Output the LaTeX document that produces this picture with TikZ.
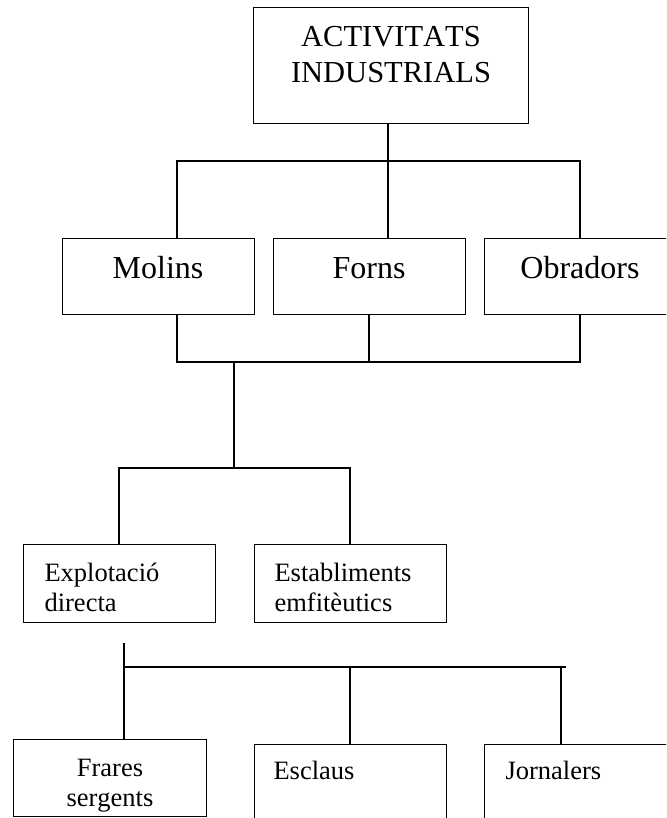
\documentclass[tikz,border=0pt]{standalone}
\usepackage{fontspec}
\setmainfont{Liberation Serif}[Kerning=Off]
\begin{document}
\begin{tikzpicture}[x=1pt,y=-1pt,line width=1.1pt,
  box/.style n args={2}{draw=black,rectangle,inner sep=0pt,anchor=north west,
    minimum width=#1,minimum height=#2},
  bigtxt/.style={inner sep=0pt,font=\fontsize{30.5}{36}\selectfont},
  midtxt/.style={inner sep=0pt,anchor=base,font=\fontsize{32}{38}\selectfont},
  smalltxt/.style={inner sep=0pt,font=\fontsize{26.5}{30}\selectfont}]
\useasboundingbox (0,0) rectangle (666,818);
\clip (0,0) rectangle (666,818);

% boxes
\node[box={275pt}{116pt}] (top) at (253,7) {};
\node[box={192pt}{76pt}] (molins) at (62,238) {};
\node[box={192pt}{76pt}] (forns) at (273,238) {};
\node[box={192pt}{76pt}] (obradors) at (484,238) {};
\node[box={192pt}{78pt}] (explot) at (23,544) {};
\node[box={192pt}{78pt}] (establ) at (254,544) {};
\node[box={193pt}{77pt}] (frares) at (13,739) {};
\node[box={192pt}{78pt}] (esclaus) at (254,744) {};
\node[box={192pt}{78pt}] (jornalers) at (484,744) {};

% labels (the base anchor of a two-line label sits on its last line)
\node[bigtxt,anchor=base,align=center] (ttop) at (391,83) {ACTIVITATS\\INDUSTRIALS};
\node[midtxt] (tmolins) at (158,278) {Molins};
\node[midtxt] (tforns) at (369,278) {Forns};
\node[midtxt] (tobradors) at (580,278) {Obradors};
\node[smalltxt,anchor=base west,align=left] (texplot) at (44,611) {Explotació\\directa};
\node[smalltxt,anchor=base west,align=left] (testabl) at (274,611) {Establiments\\emfitèutics};
\node[smalltxt,anchor=base,align=center] (tfrares) at (110,806) {Frares\\sergents};
\node[smalltxt,anchor=base west] (tesclaus) at (273,779) {Esclaus};
\node[smalltxt,anchor=base west] (tjornalers) at (505,779) {Jornalers};

% junction points of the connecting lines
\coordinate (j0) at (388,161);
\coordinate (b1L) at (177,161);
\coordinate (b1R) at (580,161);
\coordinate (b2L) at (177,362);
\coordinate (b2F) at (369,362);
\coordinate (b2M) at (234,362);
\coordinate (b2R) at (580,362);
\coordinate (b3M) at (234,468);
\coordinate (b3L) at (119,468);
\coordinate (b3R) at (350,468);
\coordinate (b4T) at (124,643);
\coordinate (b4L) at (124,667);
\coordinate (b4E) at (350,667);
\coordinate (b4J) at (561,667);
\coordinate (b4R) at (566,667);

% connectors
\draw (top.south -| j0) -- (j0);
\draw (molins.north -| b1L) -- (b1L) -- (b1R) -- (obradors.north -| b1R);
\draw (forns.north -| j0) -- (j0);
\draw (molins.south -| b2L) -- (b2L) -- (b2R) -- (obradors.south -| b2R);
\draw (forns.south -| b2F) -- (b2F);
\draw (b2M) -- (b3M);
\draw (explot.north -| b3L) -- (b3L) -- (b3R) -- (establ.north -| b3R);
\draw (b4T) -- (frares.north -| b4T);
\draw (b4L) -- (b4R);
\draw (b4E) -- (esclaus.north -| b4E);
\draw (b4J) -- (jornalers.north -| b4J);
\end{tikzpicture}
\end{document}
